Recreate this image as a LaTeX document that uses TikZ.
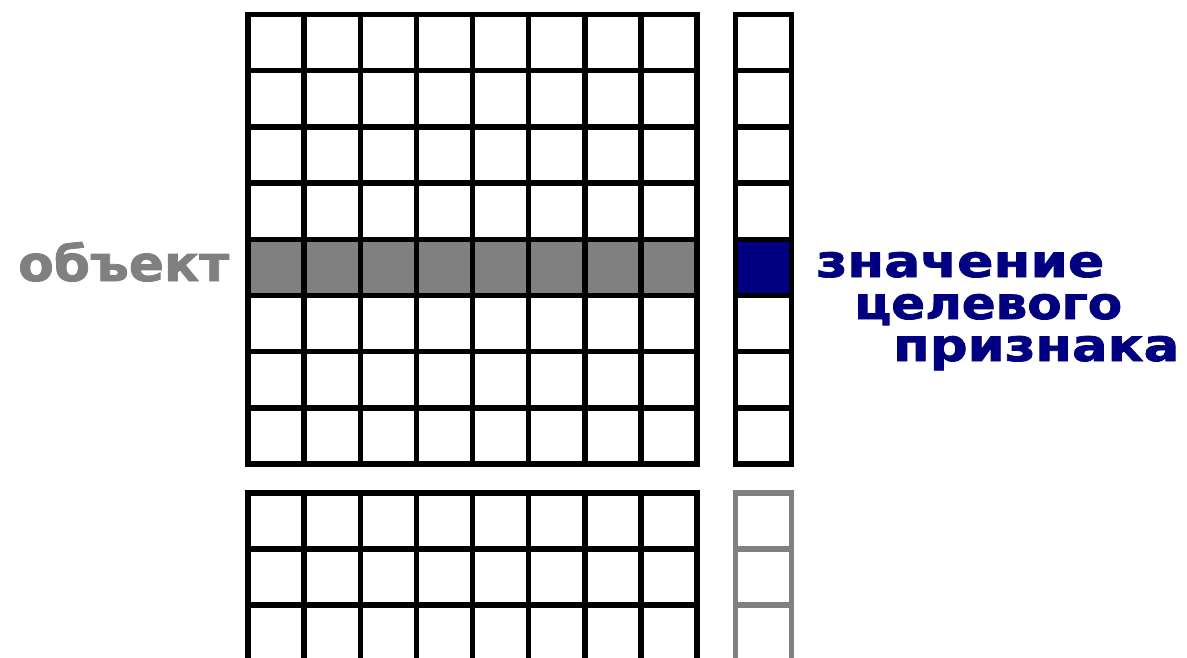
\documentclass[tikz,border=0pt]{standalone}
\usepackage{fontspec}
\setmainfont{DejaVu Sans}
\newfontfamily\heavyfont{DejaVu Sans}[BoldFeatures={FakeBold=1.6}]
\usepackage{graphicx}
\definecolor{objgray}{HTML}{808080}
\definecolor{targetblue}{HTML}{000080}
\begin{document}
\begin{tikzpicture}[x=1pt,y=-1pt,
  gridline/.style={line width=5.5pt, line cap=rect, draw=black},
  greyline/.style={line width=5.5pt, line cap=rect, draw=objgray},
  lbl/.style={anchor=base west, inner sep=0pt, font=\heavyfont\bfseries}]
\useasboundingbox (0,0) rectangle (1187,658);
\clip (0,0) rectangle (1187,658);
\def\px{56.125}
\def\py{56.19}
% highlighted row and target cell
\fill[objgray] (248,{14.5+4*\py}) rectangle (697,{14.5+5*\py});
\fill[targetblue] (735.5,{14.5+4*\py}) rectangle (791.5,{14.5+5*\py});
% main grid
\foreach \i in {0,...,8} \draw[gridline] ({248+\i*\px},14.5) -- ({248+\i*\px},464);
\foreach \j in {0,...,8} \draw[gridline] (248,{14.5+\j*\py}) -- (697,{14.5+\j*\py});
% target column
\foreach \x in {735.5,791.5} \draw[gridline] (\x,14.5) -- (\x,464);
\foreach \j in {0,...,8} \draw[gridline] (735.5,{14.5+\j*\py}) -- (791.5,{14.5+\j*\py});
% lower grid (cut by the frame)
\foreach \i in {0,...,8} \draw[gridline] ({248+\i*\px},493) -- ({248+\i*\px},700);
\foreach \j in {0,...,3} \draw[gridline] (248,{493+\j*56}) -- (697,{493+\j*56});
% lower target column (grey)
\foreach \x in {735.5,791.5} \draw[greyline] (\x,493) -- (\x,700);
\foreach \j in {0,...,3} \draw[greyline] (735.5,{493+\j*56}) -- (791.5,{493+\j*56});
% labels
\node[lbl, text=objgray] (obj) at (18,281) {\resizebox{211pt}{39pt}{объект}};
\node[lbl, text=targetblue] (t1) at (816,277) {\resizebox{288pt}{25pt}{значение}};
\node[lbl, text=targetblue] (t2) at (854,319) {\resizebox{268pt}{25pt}{целевого}};
\node[lbl, text=targetblue] (t3) at (893,361) {\resizebox{286pt}{25pt}{признака}};
\end{tikzpicture}
\end{document}
